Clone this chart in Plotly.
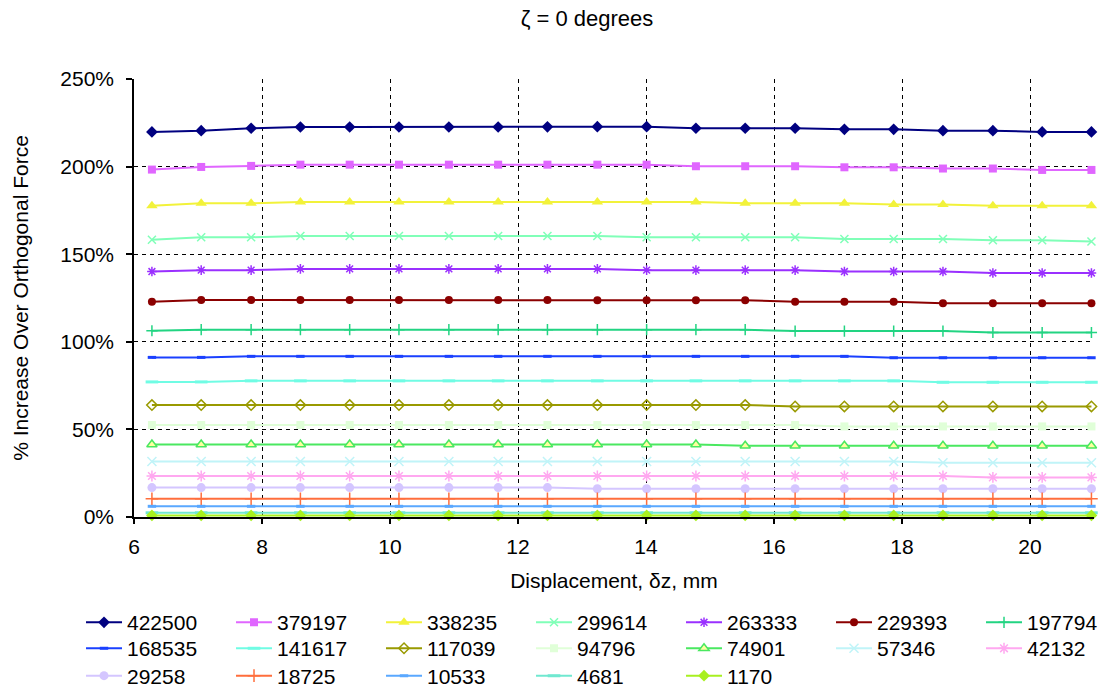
import plotly.graph_objects as go

# Displacement positions (mm)
displacement = [6.28, 7.05, 7.83, 8.60, 9.37, 10.14, 10.92, 11.69, 12.46, 13.24,
                14.01, 14.78, 15.55, 16.33, 17.10, 17.87, 18.64, 19.42, 20.19, 20.96]

# % increase over orthogonal force, one list per series
s422500 = [219.8, 220.5, 221.9, 222.6, 222.6, 222.6, 222.6, 222.6, 222.7, 222.8,
           222.8, 221.9, 221.9, 221.9, 221.3, 221.3, 220.5, 220.5, 219.8, 219.8]
s379197 = [198.3, 199.8, 200.4, 201.1, 201.1, 201.1, 201.1, 201.1, 201.1, 201.1,
           201.1, 200.2, 200.2, 200.2, 199.6, 199.6, 198.9, 198.9, 198.1, 198.1]
s338235 = [177.7, 179.1, 179.1, 179.8, 179.8, 179.8, 179.8, 179.8, 179.8, 179.8,
           179.8, 179.8, 179.1, 179.1, 179.1, 178.3, 178.3, 177.6, 177.6, 177.6]
s299614 = [158.2, 159.7, 159.7, 160.4, 160.4, 160.4, 160.4, 160.4, 160.4, 160.4,
           159.7, 159.7, 159.7, 159.7, 158.7, 158.7, 158.7, 158.0, 158.0, 157.2]
s263333 = [140.1, 140.9, 140.9, 141.6, 141.6, 141.6, 141.6, 141.6, 141.6, 141.6,
           140.9, 140.9, 140.9, 140.9, 140.1, 140.1, 140.1, 139.3, 139.3, 139.3]
s229393 = [122.8, 123.8, 123.8, 123.8, 123.8, 123.8, 123.8, 123.8, 123.8, 123.7,
           123.7, 123.7, 123.7, 122.8, 122.8, 122.8, 122.0, 122.0, 122.0, 122.0]
s197794 = [106.3, 106.9, 106.9, 106.9, 106.9, 106.9, 106.9, 106.9, 106.9, 106.9,
           106.9, 106.9, 106.9, 106.1, 106.1, 106.1, 106.1, 105.3, 105.3, 105.3]
s168535 = [91.1, 91.1, 91.7, 91.7, 91.7, 91.7, 91.7, 91.7, 91.7, 91.7,
           91.7, 91.7, 91.7, 91.7, 91.7, 90.9, 90.9, 90.9, 90.9, 90.9]
s141617 = [77.1, 77.1, 77.7, 77.7, 77.7, 77.7, 77.7, 77.7, 77.7, 77.7,
           77.7, 77.7, 77.7, 77.7, 77.7, 77.7, 76.9, 76.9, 76.9, 76.9]
s117039 = [63.9, 63.9, 63.9, 63.9, 63.9, 63.9, 63.9, 63.9, 63.9, 63.9,
           63.9, 63.9, 63.9, 63.1, 63.1, 63.1, 63.1, 63.1, 63.1, 63.1]
s94796 = [52.5, 52.5, 52.5, 52.5, 52.5, 52.5, 52.5, 52.5, 52.5, 52.5,
          52.5, 52.5, 52.5, 52.5, 51.7, 51.7, 51.7, 51.7, 51.7, 51.7]
s74901 = [41.4, 41.4, 41.4, 41.4, 41.4, 41.4, 41.4, 41.4, 41.4, 41.4,
          41.4, 41.4, 40.7, 40.7, 40.7, 40.7, 40.7, 40.7, 40.7, 40.7]
s57346 = [31.7, 31.7, 31.7, 31.7, 31.7, 31.7, 31.7, 31.7, 31.7, 31.7,
          31.7, 31.7, 31.7, 31.7, 31.7, 31.7, 31.0, 31.0, 31.0, 31.0]
s42132 = [23.4, 23.4, 23.4, 23.4, 23.4, 23.4, 23.4, 23.4, 23.4, 23.4,
          23.4, 23.4, 23.4, 23.4, 23.4, 23.4, 23.4, 22.6, 22.6, 22.6]
s29258 = [16.8, 16.8, 16.8, 16.8, 16.8, 16.8, 16.8, 16.8, 16.8, 16.1,
          16.1, 16.1, 16.1, 16.1, 16.1, 16.1, 16.1, 16.1, 16.1, 16.1]
s18725 = [10.4, 10.4, 10.4, 10.4, 10.4, 10.4, 10.4, 10.4, 10.4, 10.4,
          10.4, 10.4, 10.4, 10.4, 10.4, 10.4, 10.4, 10.4, 10.4, 10.4]
s10533 = [6.1, 6.1, 6.1, 6.1, 6.1, 6.1, 6.1, 6.1, 6.1, 6.1,
          6.1, 6.1, 6.1, 6.1, 6.1, 6.1, 6.1, 6.1, 6.1, 6.1]
s4681 = [2.4, 2.4, 2.4, 2.4, 2.4, 2.4, 2.4, 2.4, 2.4, 2.4,
         2.4, 2.4, 2.4, 2.4, 2.4, 2.4, 2.4, 2.4, 2.4, 2.4]
s1170 = [0.9, 0.9, 0.9, 0.9, 0.9, 0.9, 0.9, 0.9, 0.9, 0.9,
         0.9, 0.9, 0.9, 0.9, 0.9, 0.9, 0.9, 0.9, 0.9, 0.9]

series_names = ["422500", "379197", "338235", "299614", "263333", "229393", "197794",
                "168535", "141617", "117039", "94796", "74901", "57346", "42132",
                "29258", "18725", "10533", "4681", "1170"]
series_values = [s422500, s379197, s338235, s299614, s263333, s229393, s197794,
                 s168535, s141617, s117039, s94796, s74901, s57346, s42132,
                 s29258, s18725, s10533, s4681, s1170]

y_ticks = [0, 50, 100, 150, 200, 250]
y_tick_labels = ["0%", "50%", "100%", "150%", "200%", "250%"]
x_ticks = [6, 8, 10, 12, 14, 16, 18, 20]

FONT = "Liberation Sans, Arial, sans-serif"
FS = 21

# (line colour, marker symbol, marker size, marker fill, marker outline width)
styles = [
    ("#000080", "diamond", 9, "#000080", 0),
    ("#e066ff", "square", 8, "#e066ff", 0),
    ("#f2f23a", "triangle-up", 10, "#f2f23a", 0),
    ("#80ffb8", "x-thin-open", 8, "#80ffb8", 1.5),
    ("#9a30ff", "asterisk-open", 8, "#9a30ff", 1.5),
    ("#8b0000", "circle", 8, "#8b0000", 0),
    ("#22d482", "cross-thin-open", 8, "#22d482", 1.5),
    ("#1a40ff", "line-ew-open", 6, "#1a40ff", 3),
    ("#70fce4", "line-ew-open", 9, "#70fce4", 3),
    ("#999a00", "diamond-open", 8, "#999a00", 1.5),
    ("#e0ffd8", "square", 8, "#e0ffd8", 0),
    ("#4ae860", "triangle-up", 9, "#ffffa0", 1.5),
    ("#c0f4f8", "x-thin-open", 9, "#c0f4f8", 1.5),
    ("#ffa8f0", "asterisk-open", 9, "#ffa8f0", 1.5),
    ("#d4c6ff", "circle", 9, "#d4c6ff", 0),
    ("#ff6e3c", "cross-thin-open", 9, "#ff6e3c", 1.5),
    ("#5aa8ff", "line-ew-open", 6, "#5aa8ff", 3),
    ("#70e8d0", "line-ew-open", 9, "#70e8d0", 3),
    ("#a8f020", "diamond", 9, "#a8f020", 0),
]

legend_ids = ["legend"] * 7 + ["legend2"] * 7 + ["legend3"] * 5

fig = go.Figure()
for name, vals, (color, symbol, size, fill, lw), lg in zip(series_names, series_values, styles, legend_ids):
    marker = dict(symbol=symbol, size=size, color=fill)
    if lw:
        marker["line"] = dict(color=color, width=lw)
    else:
        marker["line"] = dict(width=0)
    fig.add_trace(go.Scatter(
        x=displacement, y=vals, name=name, mode="lines+markers",
        line=dict(color=color, width=2), marker=marker,
        legend=lg, cliponaxis=False,
    ))

legend_common = dict(
    orientation="h", xref="paper", x=-0.0552, xanchor="left", yanchor="middle",
    entrywidth=99, entrywidthmode="pixels", itemwidth=36,
    font=dict(family=FONT, size=FS, color="#000000"),
    bgcolor="rgba(0,0,0,0)", borderwidth=0, tracegroupgap=0,
)

fig.update_layout(
    width=1104, height=693,
    margin=dict(l=134, r=10, t=79, b=176, autoexpand=False),
    paper_bgcolor="white", plot_bgcolor="white",
    font=dict(family=FONT, size=FS, color="#000000"),
    title=dict(text="ζ = 0 degrees", x=587 / 1104, xref="container", xanchor="center",
               y=1 - 18 / 693, yref="container", yanchor="middle",
               font=dict(family=FONT, size=22, color="#000000")),
    legend=dict(legend_common, y=-0.2412),
    legend2=dict(legend_common, y=-0.3005),
    legend3=dict(legend_common, y=-0.3630),
    xaxis=dict(
        range=[6, 21], tickvals=x_ticks, showline=True, linecolor="#000000", linewidth=1.5,
        ticks="outside", ticklen=5, tickcolor="#000000", tickwidth=1.5,
        showgrid=True, gridcolor="#000000", gridwidth=1.2, griddash="4px,4px",
        zeroline=False, tickfont=dict(family=FONT, size=FS), ticklabelstandoff=5,
        title=dict(text="Displacement, δz, mm", font=dict(family=FONT, size=FS), standoff=16),
    ),
    yaxis=dict(
        range=[0, 250], tickvals=y_ticks, ticktext=y_tick_labels, showline=True,
        linecolor="#000000", linewidth=1.5,
        ticks="outside", ticklen=6, tickcolor="#000000", tickwidth=1.5,
        showgrid=True, gridcolor="#000000", gridwidth=1.2, griddash="4px,4px",
        zeroline=False, tickfont=dict(family=FONT, size=FS), ticklabelstandoff=8,
        title=dict(text="% Increase Over Orthogonal Force", font=dict(family=FONT, size=FS), standoff=26),
    ),
)

fig.write_html("out.html")
